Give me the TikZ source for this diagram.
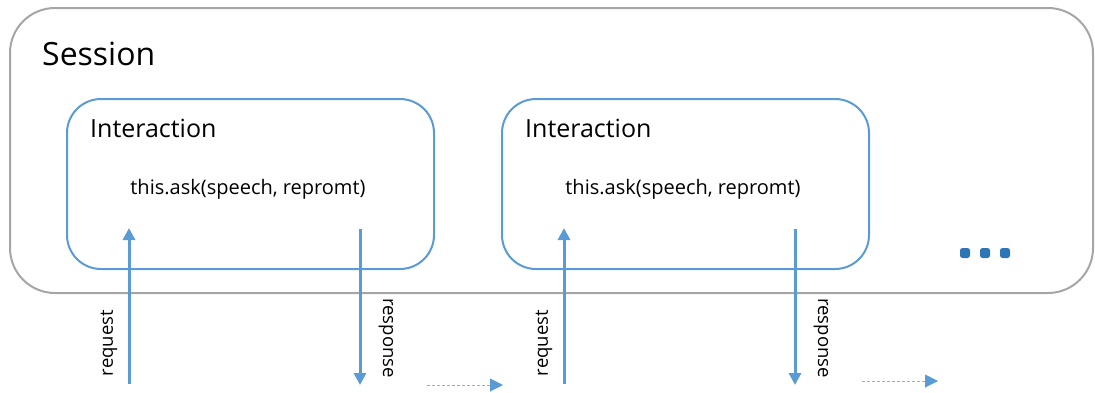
\documentclass[tikz,border=0pt]{standalone}
\usepackage{fontspec}
\setmainfont{Open Sans}
\usetikzlibrary{arrows.meta}

\definecolor{boxblue}{RGB}{91,155,213}
\definecolor{dotblue}{RGB}{46,117,182}
\definecolor{sessgray}{RGB}{166,166,166}
\definecolor{nextblue}{RGB}{130,180,225}

\tikzset{
  sessionbox/.style={draw=sessgray, line width=2pt, rounded corners=45pt,
    minimum width=1083pt, minimum height=285pt, inner sep=0pt},
  interbox/.style={draw=boxblue, line width=2pt, rounded corners=34pt,
    minimum width=367pt, minimum height=170pt, inner sep=0pt},
  msgarrow/.style={draw=boxblue, line width=3pt, -{Triangle[width=12pt,length=12pt]}},
  nextarrow/.style={draw=nextblue, line width=1pt, dash pattern=on 3pt off 2pt,
    -{Triangle[width=13pt,length=13pt,color=boxblue]}},
  sidelabel/.style={font=\fontsize{18.5}{18.5}\selectfont, inner sep=0pt},
  moredot/.style={fill=dotblue, rounded corners=2.5pt, minimum size=10pt, inner sep=0pt}
}

\begin{document}
\begin{tikzpicture}[x=1pt,y=-1pt]
\useasboundingbox (0,0) rectangle (1095,392);

% the session
\node[sessionbox] (session) at (551.5,150.5) {};
\node[anchor=base west, inner sep=0pt, font=\fontsize{32}{32}\selectfont] (sesstitle) at (42,65) {Session};

% two interactions, one after the other
\foreach \i/\dx/\dy in {1/0/385, 2/435/381}{
  \begin{scope}[xshift=\dx]
    \node[interbox] (inter\i) at (250.5,184) {};
    \node[anchor=base west, inner sep=0pt, font=\fontsize{25}{25}\selectfont] (intertitle\i) at (90,137) {Interaction};
    \node[anchor=base, inner sep=0pt, font=\fontsize{20}{20}\selectfont] (ask\i) at (248,194) {this.ask(speech, repromt)};
    \coordinate (reqin\i) at (129,384);
    \coordinate (reqtop\i) at (129,228);
    \coordinate (resptop\i) at (360,229);
    \coordinate (respout\i) at (360,385);
    \draw[msgarrow] (reqin\i) -- (reqtop\i);
    \draw[msgarrow] (resptop\i) -- (respout\i);
    \node[sidelabel, rotate=90] (req\i) at (109,343) {request};
    \node[sidelabel, rotate=-90] (resp\i) at (386,338) {response};
    \coordinate (nexta\i) at (427,\dy);
    \coordinate (nextb\i) at (503,\dy);
    \draw[nextarrow] (nexta\i) -- (nextb\i);
  \end{scope}
}

% more interactions follow
\foreach \x [count=\k] in {965,985,1005}
  \node[moredot] (dot\k) at (\x,253) {};
\end{tikzpicture}
\end{document}
